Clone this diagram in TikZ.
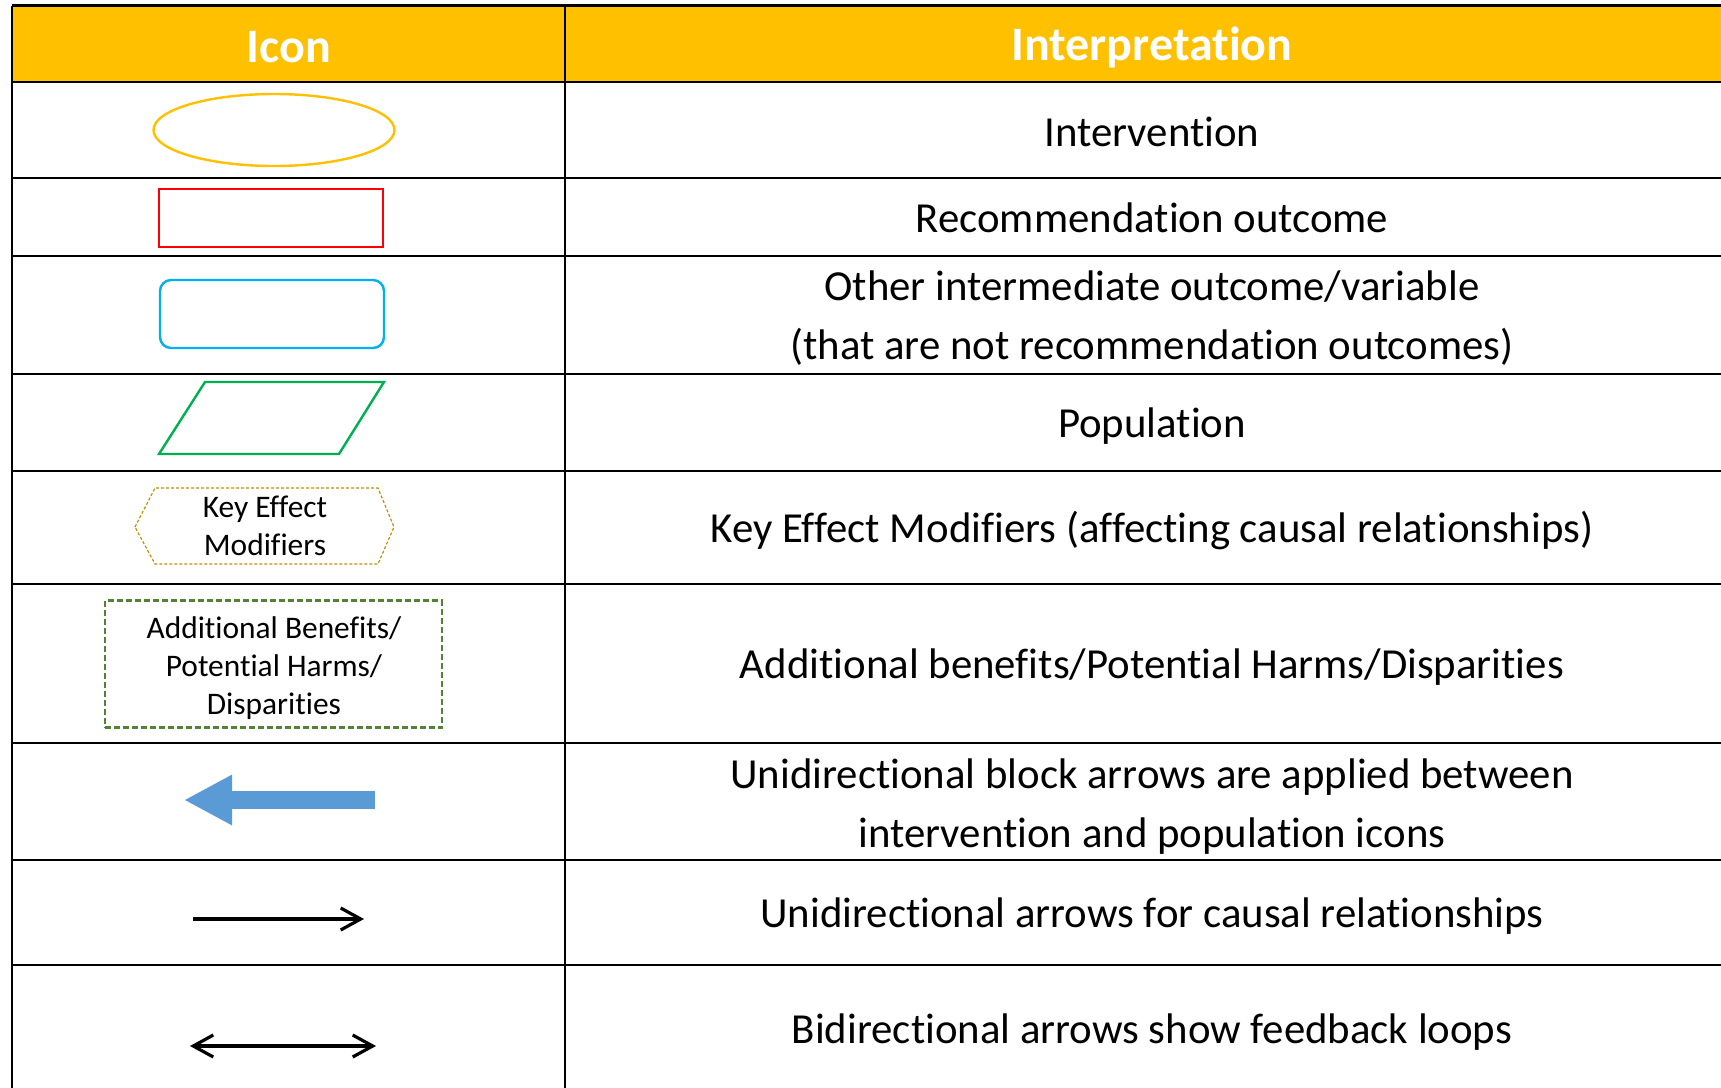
\documentclass[tikz,border=0pt]{standalone}
\usepackage{fontspec}
\setmainfont{Carlito}[RawFeature={-liga,-dlig,-clig}]
\usetikzlibrary{arrows.meta,shapes.geometric}

\definecolor{headgold}{HTML}{FFC000}
\definecolor{recred}{HTML}{FF0000}
\definecolor{midcyan}{HTML}{00B0F0}
\definecolor{popgreen}{HTML}{00B050}
\definecolor{hexgold}{HTML}{BF9000}
\definecolor{benefitgreen}{HTML}{548235}
\definecolor{blockblue}{HTML}{5B9BD5}

\tikzset{
  cell/.style={font=\fontsize{21.4}{29.5}\selectfont, align=center, inner sep=0pt},
  headcell/.style={font=\bfseries\fontsize{24}{28}\selectfont, text=white, inner sep=0pt},
  smalltext/.style={font=\fontsize{15.7}{19}\selectfont, align=center, inner sep=0pt},
  iconline/.style={line width=1.2pt},
  gridline/.style={line width=1.2pt},
  causal/.style={line width=1.6pt, -{Straight Barb[length=10pt,width=11pt]}},
}

\begin{document}
\begin{tikzpicture}[x=0.5pt, y=-0.5pt]
  \useasboundingbox (0,0) rectangle (1721,1088);
  \clip (0,0) rectangle (1721,1088);

  % header row
  \fill[headgold] (12,5.5) rectangle (1739,82);
  \node[headcell] (hicon) at (289,47) {Icon};
  \node[headcell] (hinterp) at (1152,47) {Interpretation};

  % table grid
  \foreach \y in {5.5,82,178,256,374,471,584,743,860,965}
    \draw[gridline] (12,\y) -- (1739,\y);
  \foreach \x in {12,565,1739}
    \draw[gridline] (\x,5.5) -- (\x,1100);

  % icons
  \node[ellipse, draw=headgold, iconline, minimum width=120.5pt, minimum height=36pt] (interv) at (274,130) {};
  \node[rectangle, draw=recred, iconline, minimum width=112pt, minimum height=29pt] (recout) at (271,218) {};
  \node[rectangle, draw=midcyan, iconline, rounded corners=5.5pt, minimum width=112pt, minimum height=34pt] (midout) at (272,314) {};
  \draw[popgreen, iconline] (205,382) -- (384,382) -- (339,454) -- (159,454) -- cycle;
  \draw[hexgold, line width=0.6pt, dash pattern=on 1.5pt off 1pt] (135,527) -- (155,488) -- (378,488) -- (394,527) -- (378,564) -- (155,564) -- cycle;
  \node[smalltext] (kem) at (265,526) {Key Effect\\Modifiers};
  \node[rectangle, draw=benefitgreen, iconline, dash pattern=on 3pt off 1.5pt, minimum width=168.5pt, minimum height=63.5pt] (benefit) at (273.5,664) {};
  \node[smalltext] (benefittext) at (274,668) {Additional Benefits/\\Potential Harms/\\Disparities};

  % arrow icons
  \coordinate (blockfrom) at (375,800);
  \coordinate (blockto) at (184,800);
  \draw[blockblue, line width=9pt, -{Triangle[length=24pt,width=23.5pt]}] (blockfrom) -- (blockto);
  \coordinate (unifrom) at (193,919);
  \coordinate (unito) at (364,919);
  \draw[causal] (unifrom) -- (unito);
  \coordinate (bileft) at (190,1046);
  \coordinate (biright) at (376,1046);
  \draw[line width=1.6pt, {Straight Barb[length=10pt,width=11pt]}-{Straight Barb[length=10pt,width=11pt]}] (bileft) -- (biright);

  % interpretations
  \node[cell] (tinterv) at (1152,132) {Intervention};
  \node[cell] (trecout) at (1152,218) {Recommendation outcome};
  \node[cell] (tmidout) at (1152,318) {Other intermediate outcome/variable\\(that are not recommendation outcomes)};
  \node[cell] (tpop) at (1152,426) {Population};
  \node[cell] (tkem) at (1152,531) {Key Effect Modifiers (affecting causal relationships)};
  \node[cell] (tbenefit) at (1152,667) {Additional benefits/Potential Harms/Disparities};
  \node[cell] (tblock) at (1152,807) {Unidirectional block arrows are applied between\\intervention and population icons};
  \node[cell] (tcausal) at (1152,916) {Unidirectional arrows for causal relationships};
  \node[cell] (tbidir) at (1152,1032) {Bidirectional arrows show feedback loops};
\end{tikzpicture}
\end{document}
